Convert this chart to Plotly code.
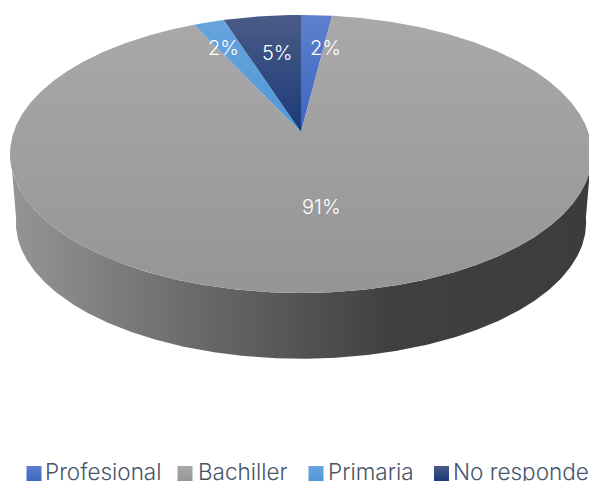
import numpy as np
import plotly.graph_objects as go

# Education level survey: share of respondents per category
categories = ["Profesional", "Bachiller", "Primaria", "No responde"]
shares = [2, 91, 2, 5]
top_colors = ["#5f80cc", "#a9a9a9", "#68a4dd", "#4a5b87"]
bottom_colors = ["#3a66c2", "#959595", "#4f97d8", "#1b3a78"]
wall_stops = [[0, "#959595"], [0.35, "#666666"], [0.66, "#404040"], [1, "#3c3c3c"]]
label_anchor = [(325, 48), (321, 207), (223, 48), (277, 53)]
swatch_x = [34, 185, 316, 441.5]
legend_text_x = [43, 195.5, 325.5, 450.5]

# Pie projection: apex position, radii and perspective strength
APEX_X, APEX_Y = 301, 132
RAD_X, RAD_Y, PERSP = 287.3, 135.5, 0.158
DEPTH, BASE_SCALE = 69, 0.98
FONT = "Inter"


def project(deg, scale=1.0, drop=0.0):
    t = np.radians(deg)
    u, v = np.sin(t), np.cos(t)
    w = 1 + PERSP * v
    return APEX_X + scale * RAD_X * u / w, APEX_Y + drop - scale * RAD_Y * v / w


fig = go.Figure()

# Side wall along the front of the disc
arc = np.linspace(97, 263, 400)
tx, ty = project(arc)
bx, by = project(arc[::-1], BASE_SCALE, DEPTH)
fig.add_trace(go.Scatter(
    x=np.r_[tx, bx], y=np.r_[ty, by], mode="lines", fill="toself",
    line=dict(width=0), hoverinfo="skip", showlegend=False,
    fillgradient=dict(type="horizontal", colorscale=wall_stops, start=10, stop=589),
))

# Top face slices, clockwise from twelve o'clock
edges = np.cumsum([0] + shares) / sum(shares) * 360
for i, name in enumerate(categories):
    ang = np.linspace(edges[i], edges[i + 1], max(int(edges[i + 1] - edges[i]) * 3, 12))
    ax, ay = project(ang)
    fig.add_trace(go.Scatter(
        x=np.r_[APEX_X, ax, APEX_X], y=np.r_[APEX_Y, ay, APEX_Y],
        mode="lines", fill="toself", line=dict(width=0), name=name,
        showlegend=False, hoverinfo="name",
        fillgradient=dict(
            type="vertical",
            colorscale=[[0, top_colors[i]], [1, bottom_colors[i]]],
            start=15, stop=132 if i != 1 else 293,
        ),
    ))

# Legend swatches
fig.add_trace(go.Scatter(
    x=swatch_x, y=[473.5] * 4, mode="markers", hoverinfo="skip", showlegend=False,
    marker=dict(symbol="square", size=15, color=top_colors, line=dict(width=0),
                gradient=dict(type="vertical", color=bottom_colors)),
))

annotations = []
for share, (lx, ly) in zip(shares, label_anchor):
    annotations.append(dict(
        x=lx, y=ly, text=f"{share}%", showarrow=False, xanchor="center", yanchor="middle",
        font=dict(family=FONT, size=20, color="#ffffff", weight=300),
    ))
for name, tx0 in zip(categories, legend_text_x):
    annotations.append(dict(
        x=tx0, y=471, text=name, showarrow=False, xanchor="left", yanchor="middle",
        font=dict(family=FONT, size=22.5, color="#44546a", weight=300),
    ))

fig.update_layout(
    width=589, height=481, margin=dict(l=0, r=0, t=0, b=0),
    paper_bgcolor="#ffffff", plot_bgcolor="#ffffff", showlegend=False,
    xaxis=dict(range=[0, 589], visible=False, fixedrange=True),
    yaxis=dict(range=[481, 0], visible=False, fixedrange=True),
    annotations=annotations,
)
fig.write_html("out.html", config={"displayModeBar": False})
